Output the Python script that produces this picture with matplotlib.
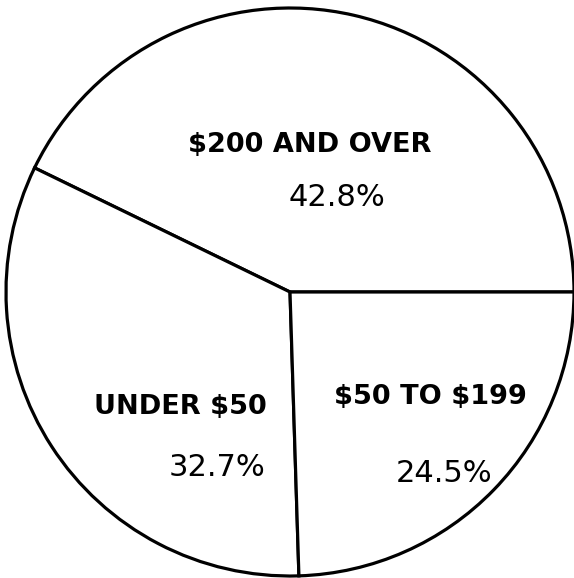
import matplotlib.pyplot as plt

# income groups and their shares of the total
groups = ['$200 AND OVER', 'UNDER $50', '$50 TO $199']
shares = [42.8, 32.7, 24.5]

# where each group's name and share are written (pixel coords, y up)
name_pos = [(310, 433), (180, 171), (430, 181)]
share_pos = [(337, 380), (217, 111), (444, 104)]

fig = plt.figure(figsize=(5.74, 5.78), dpi=100)
ax = fig.add_axes([0, 0, 1, 1])

ax.pie(shares, startangle=0, counterclock=True, center=(290, 286), radius=284,
       colors=['white'] * len(shares),
       wedgeprops=dict(edgecolor='black', linewidth=2.3))

for g, (x, y) in zip(groups, name_pos):
    ax.text(x, y, g, ha='center', va='center', fontsize=19.5,
            fontweight='bold', family='DejaVu Sans', parse_math=False)
for s, (x, y) in zip(shares, share_pos):
    ax.text(x, y, f'{s}%', ha='center', va='center', fontsize=22,
            family='DejaVu Sans', parse_math=False)

ax.set_xlim(0, 574)
ax.set_ylim(0, 578)
ax.set_aspect('equal')
ax.axis('off')

plt.savefig('out.png', dpi=100, facecolor='white')
